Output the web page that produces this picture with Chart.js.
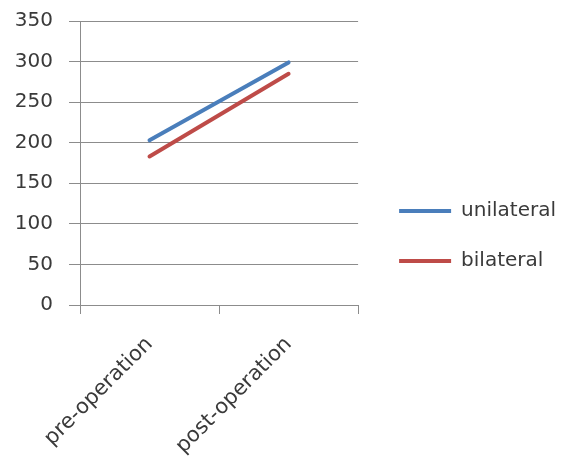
<!DOCTYPE html>
<html>
<head>
<meta charset="utf-8">
<script src="https://cdn.jsdelivr.net/npm/chart.js@4/dist/chart.umd.min.js"></script>
<style>
  html, body { margin: 0; padding: 0; background: #fff; }
  #wrap { width: 566px; height: 458px; }
</style>
</head>
<body>
<div id="wrap"><canvas id="grafico"></canvas></div>
<script>
const categorias = ["pre-operation", "post-operation"];
const unilateral = [203, 299];
const bilateral = [183, 285];
const ticksY = [0, 50, 100, 150, 200, 250, 300, 350];

const corGrade = "#8c8c8c";
const corTexto = "#3a3a3a";
const fonte = { family: "DejaVu Sans", size: 20 };

function criarGrafico() {
    const ctx = document.getElementById("grafico").getContext("2d");

    new Chart(ctx, {
        type: "line",
        data: {
            labels: categorias,
            datasets: [
                {
                    label: "unilateral",
                    data: unilateral,
                    borderColor: "#4a7ebb",
                    backgroundColor: "#4a7ebb",
                    borderWidth: 4,
                    borderCapStyle: "round",
                    pointRadius: 0,
                    pointStyle: "line"
                },
                {
                    label: "bilateral",
                    data: bilateral,
                    borderColor: "#be4b48",
                    backgroundColor: "#be4b48",
                    borderWidth: 4,
                    borderCapStyle: "round",
                    pointRadius: 0,
                    pointStyle: "line"
                }
            ]
        },
        options: {
            responsive: true,
            maintainAspectRatio: false,
            animation: false,
            layout: {
                padding: { top: 14, right: 0, bottom: 0, left: 0 }
            },
            plugins: {
                legend: {
                    position: "right",
                    maxWidth: 300,
                    labels: {
                        usePointStyle: true,
                        pointStyleWidth: 52,
                        boxWidth: 52,
                        padding: 30,
                        color: corTexto,
                        font: fonte
                    }
                },
                tooltip: { enabled: false }
            },
            scales: {
                x: {
                    offset: true,
                    grid: {
                        offset: true,
                        drawOnChartArea: false,
                        tickLength: 9,
                        color: corGrade
                    },
                    border: { color: corGrade },
                    ticks: {
                        color: corTexto,
                        font: { family: "DejaVu Sans", size: 21 },
                        minRotation: 45,
                        maxRotation: 45,
                        padding: 18
                    },
                    afterFit: s => { s.height = 153; }
                },
                y: {
                    min: 0,
                    max: 350,
                    afterBuildTicks: s => { s.ticks = ticksY.map(v => ({ value: v })); },
                    grid: {
                        color: corGrade,
                        tickLength: 11
                    },
                    border: { color: corGrade },
                    ticks: {
                        color: corTexto,
                        font: fonte,
                        padding: 16
                    },
                    afterFit: s => {
                        s.width = 80;
                        s.paddingTop = 21;
                        s.paddingBottom = 12;
                    }
                },
                y2: {
                    position: "right",
                    grid: { display: false },
                    border: { display: false },
                    ticks: { display: false },
                    afterFit: s => { s.width = 11; }
                }
            }
        }
    });
}

criarGrafico();
</script>
</body>
</html>
